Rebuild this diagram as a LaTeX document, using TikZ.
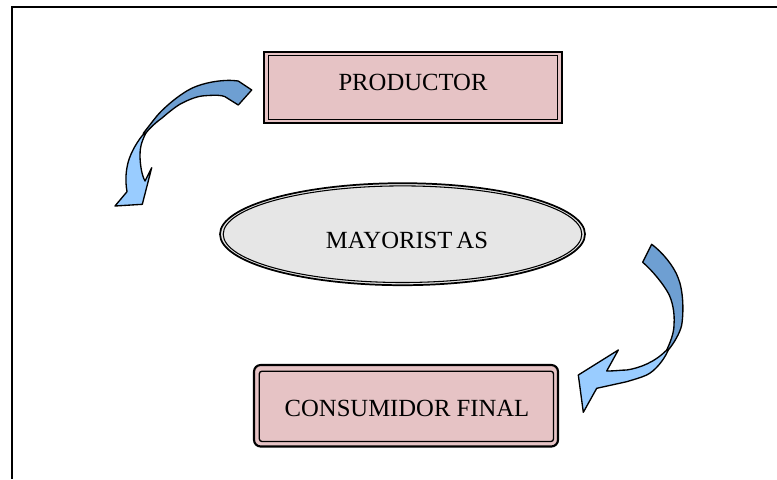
\documentclass[tikz,border=0pt]{standalone}
\usepackage{fontspec}
\setmainfont{Liberation Serif}
\usetikzlibrary{shapes.geometric}
\definecolor{boxpink}{HTML}{E6C3C5}
\definecolor{ellgray}{HTML}{E6E6E6}
\definecolor{arrlight}{HTML}{99CCFF}
\definecolor{arrdark}{HTML}{6E9FD2}
\tikzset{
  lbl/.style={font=\fontsize{18.5}{20}\selectfont, text=black},
  arrdarkface/.style={fill=arrdark, draw=black, line width=1pt, line join=round},
  arrlightface/.style={fill=arrlight, draw=black, line width=1pt, line join=round},
  outerline/.style={draw=black, line width=1.6pt},
  innerline/.style={draw=black, line width=1pt}
}
\begin{document}
\begin{tikzpicture}[x=0.75pt,y=-0.75pt]
\useasboundingbox (0,0) rectangle (777,479);
% frame
\draw[line width=1.5pt] (777,7) -- (12,7) -- (12,479);

% PRODUCTOR box
\filldraw[fill=boxpink, outerline] (264,52) rectangle (562,123);
\draw[innerline] (268.3,55.6) rectangle (557.7,119.4);
\node[lbl] (prod) at (413,82) {PRODUCTOR};

% MAYORISTAS ellipse
\filldraw[fill=ellgray, draw=black, line width=1.3pt] (402.5,234.2) ellipse [x radius=182.5, y radius=51];
\draw[black, line width=0.8pt] (402.5,234.2) ellipse [x radius=179.3, y radius=48.3];
\node[lbl] (may) at (407,240) {MAYORIST\kern3pt AS};

% CONSUMIDOR FINAL box
\filldraw[fill=boxpink, outerline, rounded corners=5] (254,365) rectangle (558,446.5);
\draw[innerline, rounded corners=2] (259.3,371.2) rectangle (553.5,441.5);
\node[lbl] (cons) at (407,408) {CONSUMIDOR FINAL};

% curved arrow 1 (top left)
\draw[arrdarkface] (251.7,90) -- (238.3,81) .. controls (225,79) and (205,82) .. (191.7,88.3)
  .. controls (180,94) and (163,108) .. (155,118.3) -- (143.3,133.3) -- (145.7,133.3)
  .. controls (152,125) and (162,118) .. (161.7,118.3)
  .. controls (170,111) and (178,105) .. (181.7,103.3)
  .. controls (190,99) and (198,96) .. (205,95.7)
  .. controls (215,95) and (222,95) .. (225,96.7) -- (238.3,105) -- cycle;
\draw[arrlightface] (144.3,133.3) .. controls (138,140) and (131,152) .. (128.3,161.7)
  .. controls (126,170) and (125,180) .. (127,191.7) -- (115,206) -- (142.3,204.3)
  -- (151.7,167.7) -- (145,181) .. controls (142,176) and (140,165) .. (140,155)
  .. controls (140,148) and (141,143) .. (145.7,133.3) -- cycle;

% curved arrow 2 (right)
\draw[arrdarkface] (651.7,244.3) .. controls (662,252) and (674,266) .. (678.3,278.3)
  .. controls (683,290) and (684,310) .. (681.7,325)
  .. controls (680,333) and (674,343) .. (668.3,350) -- (666.7,350)
  .. controls (670,343) and (674,333) .. (674,325)
  .. controls (675,312) and (672,300) .. (668.3,293.3)
  .. controls (664,285) and (652,270) .. (642.7,262.3) -- cycle;
\draw[arrlightface] (668.3,350) .. controls (664,360) and (655,371) .. (646.7,375)
  .. controls (640,378) and (632,380) .. (626.7,381.7)
  -- (596.7,388.3) -- (583.3,412.3) -- (578.3,375) -- (618.3,350) -- (606.7,371)
  .. controls (615,371) and (622,370) .. (626.7,370)
  .. controls (640,368) and (655,362) .. (666.7,350) -- cycle;
\end{tikzpicture}
\end{document}
